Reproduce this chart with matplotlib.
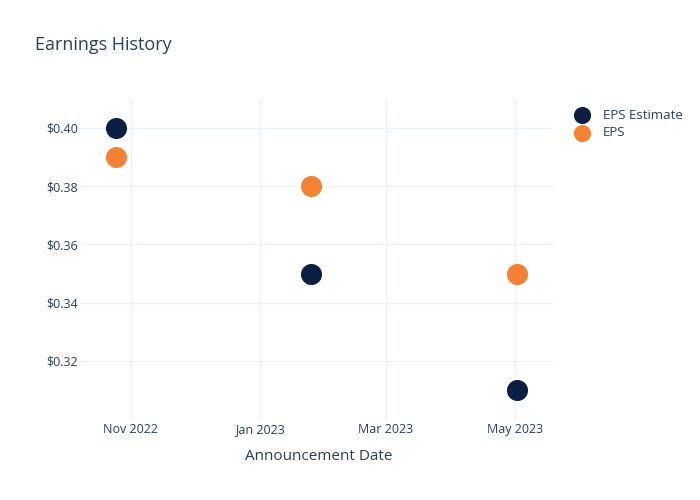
import matplotlib
matplotlib.use("Agg")
import matplotlib.pyplot as plt
import matplotlib.dates as mdates
from matplotlib.ticker import FuncFormatter
from datetime import datetime

# Earnings data
dates = [datetime(2022, 10, 25), datetime(2023, 1, 25), datetime(2023, 5, 2)]
eps_estimate = [0.40, 0.35, 0.31]
eps_actual = [0.39, 0.38, 0.35]

navy = "#0c1f42"
orange = "#f58233"
text_color = "#2a3f5f"
grid_color = "#ebf0f8"

plt.rcParams['font.family'] = ['Open Sans', 'DejaVu Sans']

fig = plt.figure(figsize=(7, 5), dpi=100)
ax = fig.add_axes([85 / 700, 80 / 500, 468 / 700, 320 / 500])

ax.scatter(dates, eps_estimate, s=200, color=navy, label="EPS Estimate", zorder=3)
ax.scatter(dates, eps_actual, s=200, color=orange, label="EPS", zorder=3)

ax.set_xlim(datetime(2022, 10, 10, 10), datetime(2023, 5, 18, 20))
ax.set_ylim(0.2997, 0.4096)
ax.set_yticks([0.32, 0.34, 0.36, 0.38, 0.40])
ax.yaxis.set_major_formatter(FuncFormatter(lambda v, p: f"${v:.2f}"))
ax.set_xticks([datetime(2022, 11, 1), datetime(2023, 1, 1), datetime(2023, 3, 1), datetime(2023, 5, 1)])
ax.xaxis.set_major_formatter(mdates.DateFormatter("%b %Y"))

ax.grid(True, color=grid_color, linewidth=1)
ax.set_axisbelow(True)
for s in ax.spines.values():
    s.set_visible(False)
ax.tick_params(axis="y", colors=grid_color, labelcolor=text_color, labelsize=9, length=3.5, width=1, pad=1.5)
ax.tick_params(axis="x", labelcolor=text_color, labelsize=9, length=0, pad=2.5)

ax.set_xlabel("Announcement Date", color=text_color, fontsize=11, labelpad=9)
fig.text(35 / 700, 1 - 45 / 500, "Earnings History", color=text_color, fontsize=13, va="center")

leg = ax.legend(loc="upper left", bbox_to_anchor=(1.009, 1.01), frameon=False,
                fontsize=9.5, labelcolor=text_color, handletextpad=0.55, labelspacing=0.35,
                markerscale=0.8)

fig.savefig("out.png", dpi=100)
